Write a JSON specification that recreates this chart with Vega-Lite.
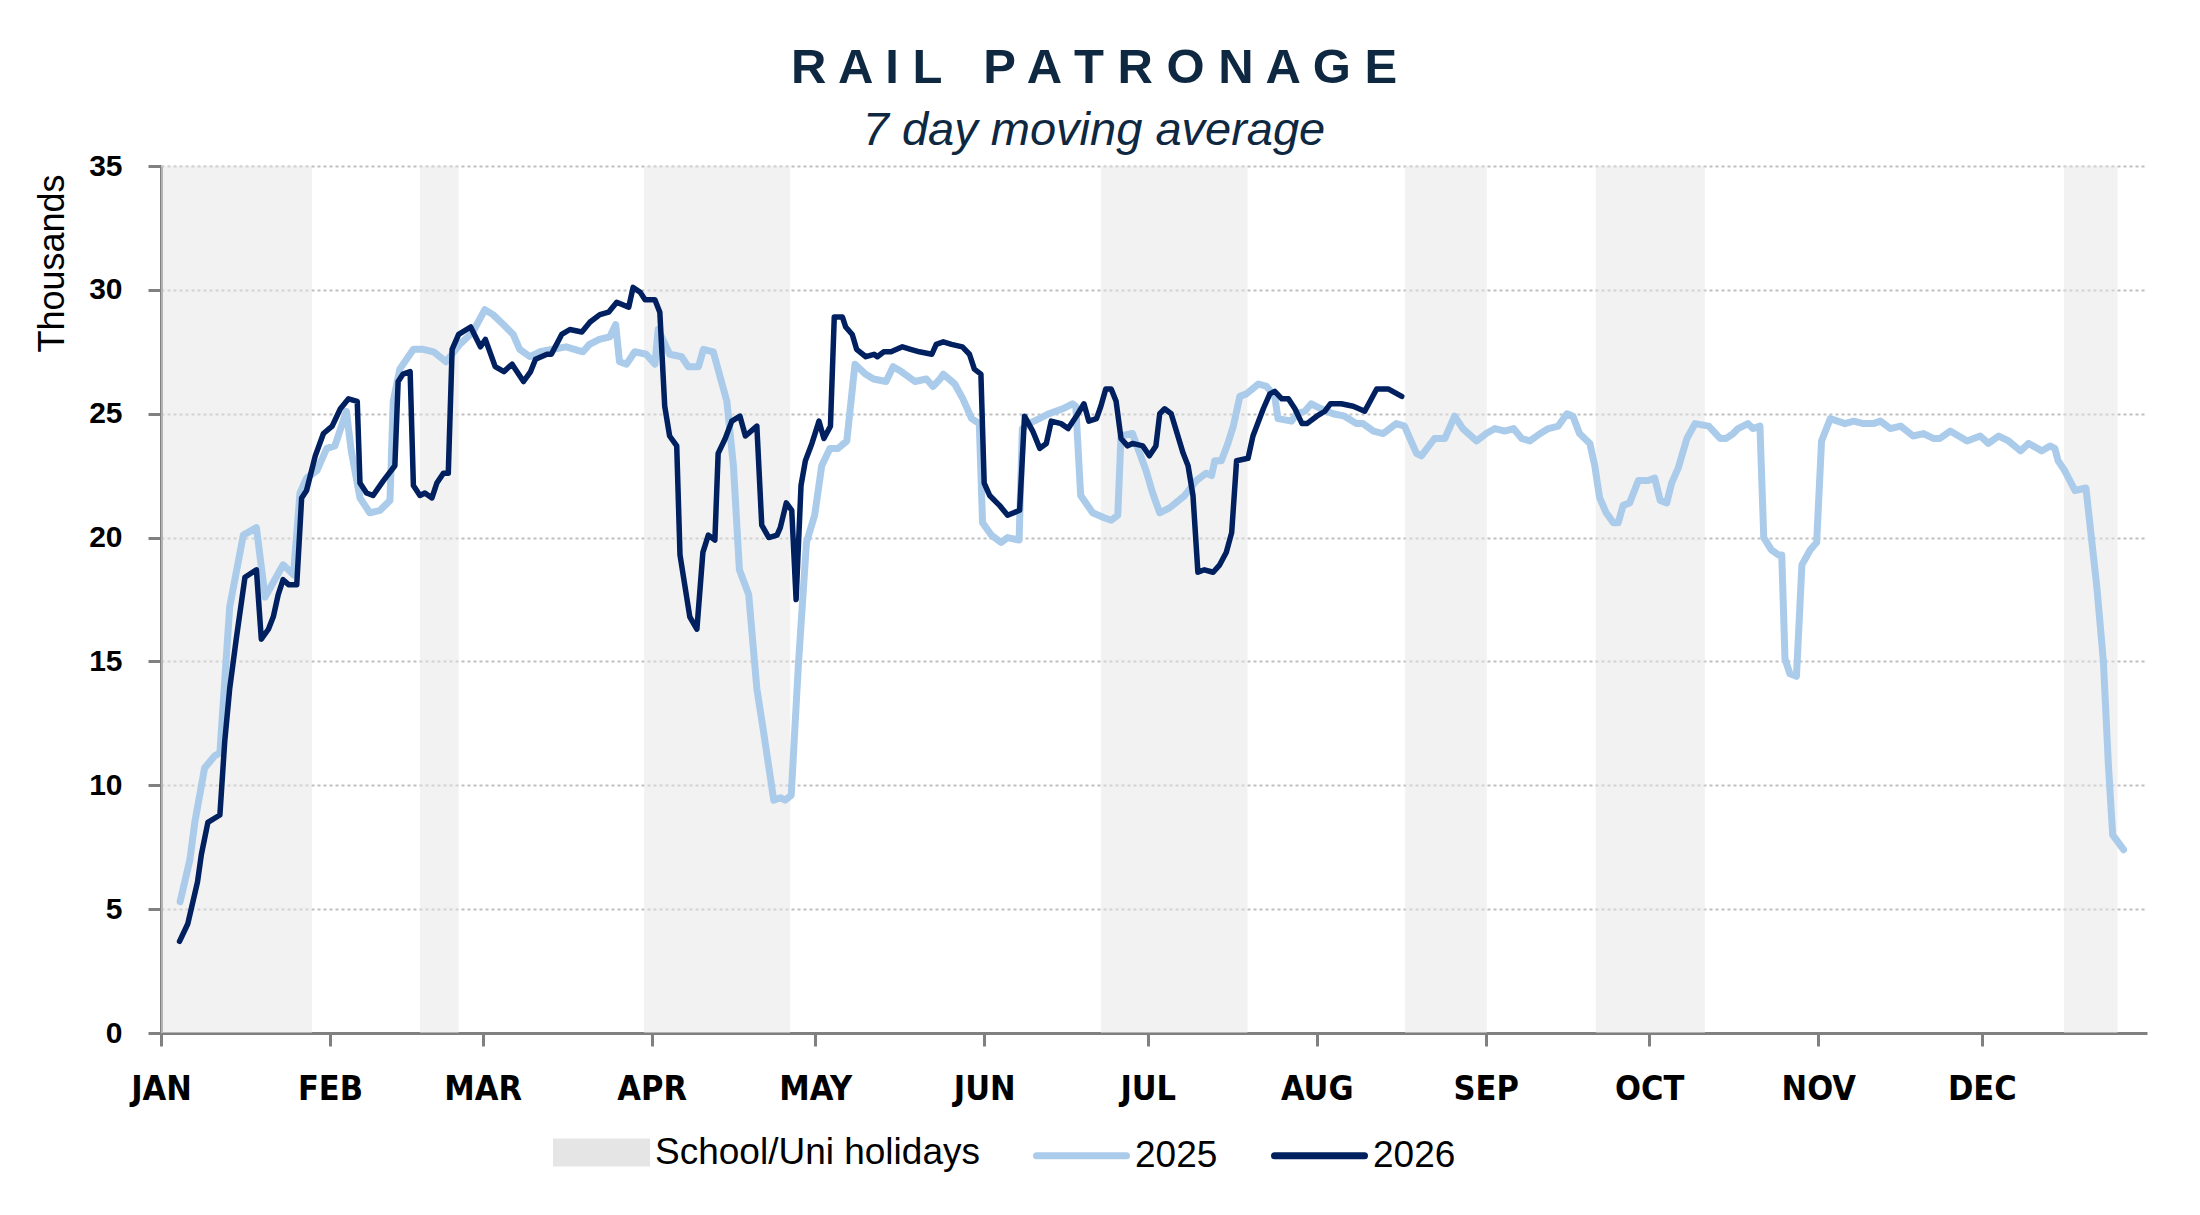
{
  "$schema": "https://vega.github.io/schema/vega-lite/v6.json",
  "autosize": {"type": "none"},
  "width": 1986,
  "height": 867,
  "padding": {"left": 161, "top": 166, "right": 53, "bottom": 182},
  "background": "white",
  "title": {
    "text": "R A I L\u00a0\u00a0\u00a0P A T R O N A G E",
    "subtitle": "7 day moving average",
    "anchor": "middle",
    "dx": -60,
    "font": "Liberation Sans",
    "fontSize": 49,
    "fontWeight": "bold",
    "color": "#0E2841",
    "subtitleFont": "Liberation Sans",
    "subtitleFontSize": 47,
    "subtitleFontStyle": "italic",
    "subtitleColor": "#0E2841",
    "subtitlePadding": 15,
    "offset": -3
  },
  "datasets": {
    "bands": [
      {"start": 1, "end": 28.7},
      {"start": 48.5, "end": 55.6},
      {"start": 89.6, "end": 116.4},
      {"start": 173.4, "end": 200.3},
      {"start": 229.2, "end": 244.2},
      {"start": 264.2, "end": 284.2},
      {"start": 350.1, "end": 359.9}
    ],
    "y2025": [
      {"day": 4.5, "value": 5.3}, {"day": 6.3, "value": 7.0}, {"day": 7.2, "value": 8.5}, {"day": 9.0, "value": 10.7},
      {"day": 10.9, "value": 11.2}, {"day": 11.8, "value": 11.3}, {"day": 13.6, "value": 17.2}, {"day": 16.1, "value": 20.1},
      {"day": 18.5, "value": 20.4}, {"day": 20.1, "value": 17.6}, {"day": 23.4, "value": 18.9}, {"day": 25.3, "value": 18.5},
      {"day": 26.5, "value": 21.8}, {"day": 27.7, "value": 22.4}, {"day": 29.6, "value": 22.7}, {"day": 31.4, "value": 23.6},
      {"day": 32.9, "value": 23.7}, {"day": 35.0, "value": 25.1}, {"day": 35.9, "value": 23.5}, {"day": 37.5, "value": 21.6},
      {"day": 39.3, "value": 21.0}, {"day": 41.2, "value": 21.1}, {"day": 43.0, "value": 21.5}, {"day": 43.6, "value": 25.5},
      {"day": 44.8, "value": 26.8}, {"day": 47.3, "value": 27.6}, {"day": 49.1, "value": 27.6}, {"day": 51.0, "value": 27.5},
      {"day": 53.3, "value": 27.1}, {"day": 55.8, "value": 27.8}, {"day": 58.2, "value": 28.3}, {"day": 60.4, "value": 29.2},
      {"day": 61.9, "value": 29.0}, {"day": 63.8, "value": 28.6}, {"day": 65.6, "value": 28.2}, {"day": 66.8, "value": 27.6},
      {"day": 68.7, "value": 27.3}, {"day": 70.5, "value": 27.5}, {"day": 72.9, "value": 27.6}, {"day": 75.3, "value": 27.7},
      {"day": 78.4, "value": 27.5}, {"day": 79.6, "value": 27.8}, {"day": 81.4, "value": 28.0}, {"day": 83.3, "value": 28.1},
      {"day": 84.4, "value": 28.6}, {"day": 85.1, "value": 27.1}, {"day": 86.4, "value": 27.0}, {"day": 87.9, "value": 27.5},
      {"day": 90.0, "value": 27.4}, {"day": 91.6, "value": 27.0}, {"day": 92.2, "value": 28.4}, {"day": 94.3, "value": 27.4},
      {"day": 96.5, "value": 27.3}, {"day": 97.7, "value": 26.9}, {"day": 99.6, "value": 26.9}, {"day": 100.5, "value": 27.6},
      {"day": 102.3, "value": 27.5}, {"day": 104.8, "value": 25.5}, {"day": 106.0, "value": 22.9}, {"day": 107.1, "value": 18.7},
      {"day": 108.8, "value": 17.7}, {"day": 110.3, "value": 13.9}, {"day": 111.5, "value": 12.2}, {"day": 113.4, "value": 9.4},
      {"day": 114.6, "value": 9.5}, {"day": 115.5, "value": 9.4}, {"day": 116.6, "value": 9.6}, {"day": 117.9, "value": 14.8},
      {"day": 119.4, "value": 19.8}, {"day": 120.9, "value": 20.9}, {"day": 122.2, "value": 22.9}, {"day": 123.7, "value": 23.6},
      {"day": 125.2, "value": 23.6}, {"day": 126.8, "value": 23.9}, {"day": 128.3, "value": 27.0}, {"day": 130.2, "value": 26.6},
      {"day": 131.7, "value": 26.4}, {"day": 134.0, "value": 26.3}, {"day": 135.3, "value": 26.9}, {"day": 136.8, "value": 26.7},
      {"day": 139.3, "value": 26.3}, {"day": 141.4, "value": 26.4}, {"day": 142.6, "value": 26.1}, {"day": 143.9, "value": 26.4},
      {"day": 144.5, "value": 26.6}, {"day": 146.6, "value": 26.2}, {"day": 148.1, "value": 25.6}, {"day": 149.7, "value": 24.8},
      {"day": 151.1, "value": 24.6}, {"day": 151.7, "value": 20.6}, {"day": 153.3, "value": 20.1}, {"day": 155.1, "value": 19.8},
      {"day": 156.3, "value": 20.0}, {"day": 158.4, "value": 19.9}, {"day": 159.0, "value": 24.4}, {"day": 160.2, "value": 24.6},
      {"day": 162.1, "value": 24.8}, {"day": 163.9, "value": 25.0}, {"day": 166.4, "value": 25.2}, {"day": 168.2, "value": 25.4},
      {"day": 168.8, "value": 25.3}, {"day": 169.7, "value": 21.7}, {"day": 171.9, "value": 21.0}, {"day": 174.0, "value": 20.8},
      {"day": 175.3, "value": 20.7}, {"day": 176.5, "value": 20.9}, {"day": 177.1, "value": 24.1}, {"day": 179.2, "value": 24.2},
      {"day": 181.7, "value": 22.7}, {"day": 182.9, "value": 21.8}, {"day": 184.2, "value": 21.0}, {"day": 186.0, "value": 21.2},
      {"day": 188.8, "value": 21.7}, {"day": 190.9, "value": 22.3}, {"day": 192.7, "value": 22.6}, {"day": 193.7, "value": 22.5},
      {"day": 194.3, "value": 23.1}, {"day": 195.5, "value": 23.1}, {"day": 196.7, "value": 23.8}, {"day": 197.7, "value": 24.5},
      {"day": 198.9, "value": 25.7}, {"day": 200.1, "value": 25.8}, {"day": 202.3, "value": 26.2}, {"day": 203.8, "value": 26.1},
      {"day": 205.3, "value": 25.7}, {"day": 205.9, "value": 24.8}, {"day": 208.4, "value": 24.7}, {"day": 209.3, "value": 25.0},
      {"day": 210.8, "value": 25.1}, {"day": 212.0, "value": 25.4}, {"day": 213.8, "value": 25.2}, {"day": 216.0, "value": 25.0},
      {"day": 218.1, "value": 24.9}, {"day": 220.3, "value": 24.6}, {"day": 221.5, "value": 24.6}, {"day": 223.4, "value": 24.3},
      {"day": 225.2, "value": 24.2}, {"day": 227.6, "value": 24.6}, {"day": 229.1, "value": 24.5}, {"day": 231.3, "value": 23.4},
      {"day": 232.2, "value": 23.3}, {"day": 234.6, "value": 24.0}, {"day": 236.5, "value": 24.0}, {"day": 238.3, "value": 24.9},
      {"day": 239.8, "value": 24.4}, {"day": 242.3, "value": 23.9}, {"day": 244.1, "value": 24.2}, {"day": 245.7, "value": 24.4},
      {"day": 247.5, "value": 24.3}, {"day": 249.1, "value": 24.4}, {"day": 250.6, "value": 24.0}, {"day": 252.1, "value": 23.9},
      {"day": 254.0, "value": 24.2}, {"day": 255.5, "value": 24.4}, {"day": 257.3, "value": 24.5}, {"day": 258.9, "value": 25.0},
      {"day": 260.0, "value": 24.9}, {"day": 261.2, "value": 24.2}, {"day": 263.1, "value": 23.8}, {"day": 264.0, "value": 22.9},
      {"day": 264.9, "value": 21.6}, {"day": 266.1, "value": 21.0}, {"day": 267.4, "value": 20.6}, {"day": 268.3, "value": 20.6},
      {"day": 269.2, "value": 21.3}, {"day": 270.4, "value": 21.4}, {"day": 272.0, "value": 22.3}, {"day": 273.8, "value": 22.3},
      {"day": 275.0, "value": 22.4}, {"day": 276.0, "value": 21.5}, {"day": 277.2, "value": 21.4}, {"day": 278.1, "value": 22.2},
      {"day": 279.3, "value": 22.8}, {"day": 280.9, "value": 24.0}, {"day": 282.4, "value": 24.6}, {"day": 284.9, "value": 24.5},
      {"day": 287.0, "value": 24.0}, {"day": 288.1, "value": 24.0}, {"day": 289.4, "value": 24.2}, {"day": 290.3, "value": 24.4},
      {"day": 292.1, "value": 24.6}, {"day": 293.0, "value": 24.4}, {"day": 294.3, "value": 24.5}, {"day": 295.0, "value": 20.0},
      {"day": 296.4, "value": 19.5}, {"day": 297.7, "value": 19.3}, {"day": 298.3, "value": 19.3}, {"day": 298.9, "value": 15.1},
      {"day": 299.8, "value": 14.5}, {"day": 301.0, "value": 14.4}, {"day": 302.0, "value": 18.9}, {"day": 303.5, "value": 19.5},
      {"day": 304.7, "value": 19.8}, {"day": 305.6, "value": 23.9}, {"day": 307.2, "value": 24.8}, {"day": 309.9, "value": 24.6},
      {"day": 311.5, "value": 24.7}, {"day": 313.3, "value": 24.6}, {"day": 315.1, "value": 24.6}, {"day": 316.4, "value": 24.7},
      {"day": 318.2, "value": 24.4}, {"day": 320.1, "value": 24.5}, {"day": 322.4, "value": 24.1}, {"day": 324.3, "value": 24.2},
      {"day": 326.1, "value": 24.0}, {"day": 327.3, "value": 24.0}, {"day": 329.2, "value": 24.3}, {"day": 332.3, "value": 23.9},
      {"day": 334.7, "value": 24.1}, {"day": 336.2, "value": 23.8}, {"day": 338.1, "value": 24.1}, {"day": 339.9, "value": 23.9},
      {"day": 342.1, "value": 23.5}, {"day": 343.6, "value": 23.8}, {"day": 346.0, "value": 23.5}, {"day": 347.5, "value": 23.7},
      {"day": 348.4, "value": 23.6}, {"day": 349.0, "value": 23.1}, {"day": 350.2, "value": 22.7}, {"day": 352.1, "value": 21.9},
      {"day": 354.1, "value": 22.0}, {"day": 356.1, "value": 18.0}, {"day": 357.3, "value": 15.0}, {"day": 358.2, "value": 10.9},
      {"day": 359.0, "value": 8.0}, {"day": 361.0, "value": 7.4}
    ],
    "y2026": [
      {"day": 4.4, "value": 3.7}, {"day": 5.9, "value": 4.4}, {"day": 7.7, "value": 6.1}, {"day": 8.4, "value": 7.2},
      {"day": 9.6, "value": 8.5}, {"day": 11.8, "value": 8.8}, {"day": 12.7, "value": 11.8}, {"day": 13.6, "value": 13.9},
      {"day": 14.8, "value": 15.9}, {"day": 16.4, "value": 18.4}, {"day": 18.5, "value": 18.7}, {"day": 19.4, "value": 15.9},
      {"day": 20.7, "value": 16.3}, {"day": 21.6, "value": 16.8}, {"day": 22.5, "value": 17.7}, {"day": 23.4, "value": 18.3},
      {"day": 24.4, "value": 18.1}, {"day": 25.9, "value": 18.1}, {"day": 26.8, "value": 21.6}, {"day": 27.7, "value": 21.9},
      {"day": 29.3, "value": 23.3}, {"day": 30.8, "value": 24.2}, {"day": 32.4, "value": 24.5}, {"day": 33.9, "value": 25.2},
      {"day": 35.4, "value": 25.6}, {"day": 37.0, "value": 25.5}, {"day": 37.5, "value": 22.2}, {"day": 38.7, "value": 21.8},
      {"day": 39.9, "value": 21.7}, {"day": 41.8, "value": 22.3}, {"day": 43.9, "value": 22.9}, {"day": 44.5, "value": 26.3},
      {"day": 45.4, "value": 26.6}, {"day": 46.7, "value": 26.7}, {"day": 47.3, "value": 22.1}, {"day": 48.5, "value": 21.7},
      {"day": 49.4, "value": 21.8}, {"day": 50.7, "value": 21.6}, {"day": 51.6, "value": 22.2}, {"day": 52.8, "value": 22.6},
      {"day": 53.7, "value": 22.6}, {"day": 54.4, "value": 27.6}, {"day": 55.6, "value": 28.2}, {"day": 57.8, "value": 28.5},
      {"day": 59.6, "value": 27.7}, {"day": 60.5, "value": 28.0}, {"day": 62.3, "value": 26.9}, {"day": 63.9, "value": 26.7},
      {"day": 65.4, "value": 27.0}, {"day": 67.5, "value": 26.3}, {"day": 68.8, "value": 26.7}, {"day": 69.7, "value": 27.2},
      {"day": 71.8, "value": 27.4}, {"day": 72.6, "value": 27.4}, {"day": 74.5, "value": 28.2}, {"day": 76.0, "value": 28.4},
      {"day": 78.2, "value": 28.3}, {"day": 79.7, "value": 28.7}, {"day": 81.5, "value": 29.0}, {"day": 83.1, "value": 29.1},
      {"day": 84.6, "value": 29.5}, {"day": 86.8, "value": 29.3}, {"day": 87.6, "value": 30.1}, {"day": 88.9, "value": 29.9},
      {"day": 89.8, "value": 29.6}, {"day": 91.6, "value": 29.6}, {"day": 92.5, "value": 29.1}, {"day": 93.4, "value": 25.3},
      {"day": 94.3, "value": 24.1}, {"day": 95.6, "value": 23.7}, {"day": 96.2, "value": 19.3}, {"day": 98.0, "value": 16.8},
      {"day": 99.3, "value": 16.3}, {"day": 100.4, "value": 19.4}, {"day": 101.4, "value": 20.1}, {"day": 102.6, "value": 19.9},
      {"day": 103.2, "value": 23.4}, {"day": 104.5, "value": 24.0}, {"day": 105.7, "value": 24.7}, {"day": 107.2, "value": 24.9},
      {"day": 108.2, "value": 24.1}, {"day": 110.3, "value": 24.5}, {"day": 111.2, "value": 20.5}, {"day": 112.5, "value": 20.0},
      {"day": 114.0, "value": 20.1}, {"day": 114.6, "value": 20.4}, {"day": 115.7, "value": 21.4}, {"day": 116.7, "value": 21.1},
      {"day": 117.5, "value": 17.5}, {"day": 118.4, "value": 22.1}, {"day": 119.2, "value": 23.1}, {"day": 120.4, "value": 23.8},
      {"day": 121.7, "value": 24.7}, {"day": 122.6, "value": 24.0}, {"day": 123.8, "value": 24.5}, {"day": 124.5, "value": 28.9},
      {"day": 126.0, "value": 28.9}, {"day": 126.6, "value": 28.5}, {"day": 127.8, "value": 28.2}, {"day": 128.6, "value": 27.6},
      {"day": 130.3, "value": 27.3}, {"day": 131.8, "value": 27.4}, {"day": 132.4, "value": 27.3}, {"day": 133.6, "value": 27.5},
      {"day": 134.9, "value": 27.5}, {"day": 137.0, "value": 27.7}, {"day": 138.5, "value": 27.6}, {"day": 140.1, "value": 27.5},
      {"day": 142.4, "value": 27.4}, {"day": 143.2, "value": 27.8}, {"day": 144.5, "value": 27.9}, {"day": 146.0, "value": 27.8},
      {"day": 148.0, "value": 27.7}, {"day": 149.3, "value": 27.4}, {"day": 150.2, "value": 26.8}, {"day": 151.4, "value": 26.6},
      {"day": 152.0, "value": 22.2}, {"day": 153.0, "value": 21.7}, {"day": 154.8, "value": 21.3}, {"day": 156.3, "value": 20.9},
      {"day": 158.5, "value": 21.1}, {"day": 159.4, "value": 24.9}, {"day": 160.9, "value": 24.3}, {"day": 162.2, "value": 23.6},
      {"day": 163.4, "value": 23.8}, {"day": 164.3, "value": 24.7}, {"day": 166.1, "value": 24.6}, {"day": 167.4, "value": 24.4},
      {"day": 168.9, "value": 24.9}, {"day": 170.3, "value": 25.4}, {"day": 171.2, "value": 24.7}, {"day": 172.6, "value": 24.8},
      {"day": 173.4, "value": 25.3}, {"day": 174.3, "value": 26.0}, {"day": 175.3, "value": 26.0}, {"day": 176.2, "value": 25.5},
      {"day": 177.1, "value": 24.0}, {"day": 178.3, "value": 23.7}, {"day": 179.2, "value": 23.8}, {"day": 181.1, "value": 23.7},
      {"day": 182.3, "value": 23.3}, {"day": 183.5, "value": 23.7}, {"day": 184.2, "value": 25.0}, {"day": 185.1, "value": 25.2},
      {"day": 186.3, "value": 25.0}, {"day": 188.5, "value": 23.4}, {"day": 189.4, "value": 22.9}, {"day": 190.3, "value": 21.7},
      {"day": 191.2, "value": 18.6}, {"day": 192.4, "value": 18.7}, {"day": 194.0, "value": 18.6}, {"day": 195.2, "value": 18.9},
      {"day": 196.4, "value": 19.4}, {"day": 197.4, "value": 20.2}, {"day": 198.3, "value": 23.1}, {"day": 200.4, "value": 23.2},
      {"day": 201.3, "value": 24.1}, {"day": 203.2, "value": 25.2}, {"day": 204.4, "value": 25.8}, {"day": 205.3, "value": 25.9},
      {"day": 206.6, "value": 25.6}, {"day": 207.8, "value": 25.6}, {"day": 209.0, "value": 25.2}, {"day": 210.3, "value": 24.6},
      {"day": 211.2, "value": 24.6}, {"day": 213.0, "value": 24.9}, {"day": 214.5, "value": 25.1}, {"day": 215.5, "value": 25.4},
      {"day": 217.5, "value": 25.4}, {"day": 219.7, "value": 25.3}, {"day": 221.8, "value": 25.1}, {"day": 224.0, "value": 26.0},
      {"day": 226.1, "value": 26.0}, {"day": 228.6, "value": 25.7}
    ]
  },
  "config": {
    "view": {"stroke": null},
    "axis": {
      "domainColor": "#808080",
      "domainWidth": 3,
      "tickColor": "#808080",
      "tickWidth": 3,
      "tickSize": 13,
      "labelColor": "#000000",
      "titleColor": "#000000"
    }
  },
  "encoding": {
    "x": {
      "field": "day",
      "type": "quantitative",
      "scale": {"domain": [1, 365.3], "nice": false, "zero": false},
      "axis": {
        "title": null,
        "grid": false,
        "values": [1, 32, 60, 91, 121, 152, 182, 213, 244, 274, 305, 335],
        "labelExpr": "upper(timeFormat(datetime(2025, 0, datum.value), '%b'))",
        "labelFont": "DejaVu Sans Condensed, Liberation Sans",
        "labelFontSize": 34,
        "labelFontWeight": "bold",
        "labelPadding": 26,
        "labelFlush": false
      }
    },
    "y": {
      "field": "value",
      "type": "quantitative",
      "scale": {"domain": [0, 35], "nice": false},
      "axis": {
        "values": [0, 5, 10, 15, 20, 25, 30, 35],
        "title": "Thousands",
        "titleFont": "Liberation Sans",
        "titleFontSize": 36,
        "titleFontWeight": "normal",
        "titleAlign": "center",
        "titleBaseline": "alphabetic",
        "titleX": -98,
        "titleY": 97,
        "labelFont": "Liberation Sans",
        "labelFontSize": 30,
        "labelFontWeight": "bold",
        "labelPadding": 26,
        "grid": true,
        "gridColor": "#bfbfbf",
        "gridWidth": 2,
        "gridDash": [3, 3]
      }
    },
    "color": {
      "type": "nominal",
      "scale": {
        "domain": ["School/Uni holidays", "2025", "2026"],
        "range": ["#e5e5e5", "#abcbea", "#002060"]
      },
      "legend": {
        "title": null,
        "orient": "none",
        "direction": "horizontal",
        "legendX": 392,
        "legendY": 938,
        "padding": 0,
        "symbolType": "stroke",
        "symbolSize": 8100,
        "symbolStrokeWidth": 7,
        "labelFont": "Liberation Sans",
        "labelFontSize": 37,
        "labelColor": "#000000",
        "labelOffset": 5,
        "labelLimit": 0,
        "columnPadding": 42,
        "encode": {
          "symbols": {
            "update": {
              "size": {"value": 8100},
              "strokeWidth": {"value": 7},
              "shape": {"signal": "datum.value === 'School/Uni holidays' ? 'M-1,-0.233H1V0.233H-1Z' : 'stroke'"},
              "fill": {"signal": "datum.value === 'School/Uni holidays' ? '#f2f2f2' : 'transparent'"},
              "stroke": {"signal": "datum.value === 'School/Uni holidays' ? 'transparent' : (datum.value === '2025' ? '#abcbea' : '#002060')"},
              "strokeCap": {"value": "round"},
              "opacity": {"value": 1}
            }
          }
        }
      }
    }
  },
  "layer": [
    {
      "data": {"name": "bands"},
      "mark": {"type": "rect", "opacity": 0.5},
      "encoding": {
        "x": {"field": "start", "type": "quantitative"},
        "x2": {"field": "end"},
        "y": null,
        "color": {"datum": "School/Uni holidays"}
      }
    },
    {
      "data": {"name": "y2025"},
      "mark": {"type": "line", "strokeWidth": 7, "strokeJoin": "round", "strokeCap": "round"},
      "encoding": {"color": {"datum": "2025"}}
    },
    {
      "data": {"name": "y2026"},
      "mark": {"type": "line", "strokeWidth": 5.5, "strokeJoin": "round", "strokeCap": "round"},
      "encoding": {"color": {"datum": "2026"}}
    }
  ]
}
